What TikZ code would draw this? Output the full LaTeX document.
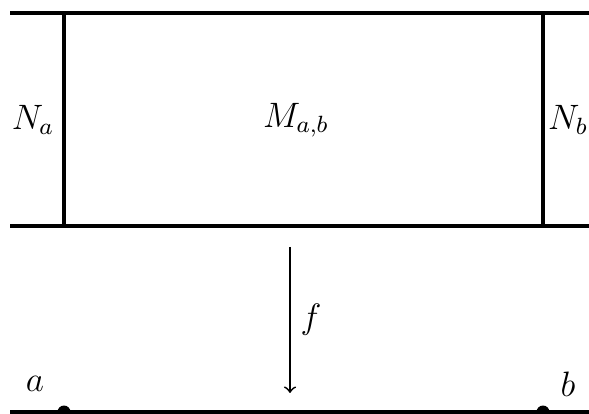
\documentclass[tikz,border=0pt]{standalone}
\begin{document}
\begin{tikzpicture}[x=0.34pt,y=-0.34pt,every node/.style={font=\large}]
  \useasboundingbox (0,0) rectangle (589,414);
  \coordinate (TL) at (10,13);
  \coordinate (TR) at (592,13);
  \coordinate (BL) at (10,226);
  \coordinate (BR) at (592,226);
  \coordinate (NaT) at (64,13);
  \coordinate (NaB) at (64,226);
  \coordinate (NbT) at (543,13);
  \coordinate (NbB) at (543,226);
  \coordinate (LL) at (10,412);
  \coordinate (LR) at (592,412);
  \coordinate (A) at (64,412);
  \coordinate (B) at (543,412);
  \coordinate (fS) at (290,247);
  \coordinate (fE) at (290,393);
  \draw[line width=1.4pt] (TL) -- (TR);
  \draw[line width=1.4pt] (BL) -- (BR);
  \draw[line width=1.4pt] (NaT) -- (NaB);
  \draw[line width=1.4pt] (NbT) -- (NbB);
  \draw[line width=1.4pt] (LL) -- (LR);
  \fill (A) circle (2.2pt);
  \fill (B) circle (2.2pt);
  \draw[line width=0.6pt,->] (fS) -- (fE) node[midway, right] {$f$};
  \node (Na) at (33,120) {$N_a$};
  \node (Mab) at (296,120) {$M_{a,b}$};
  \node (Nb) at (568,120) {$N_b$};
  \node (a) at (35,384) {$a$};
  \node (b) at (568,384) {$b$};
\end{tikzpicture}
\end{document}
